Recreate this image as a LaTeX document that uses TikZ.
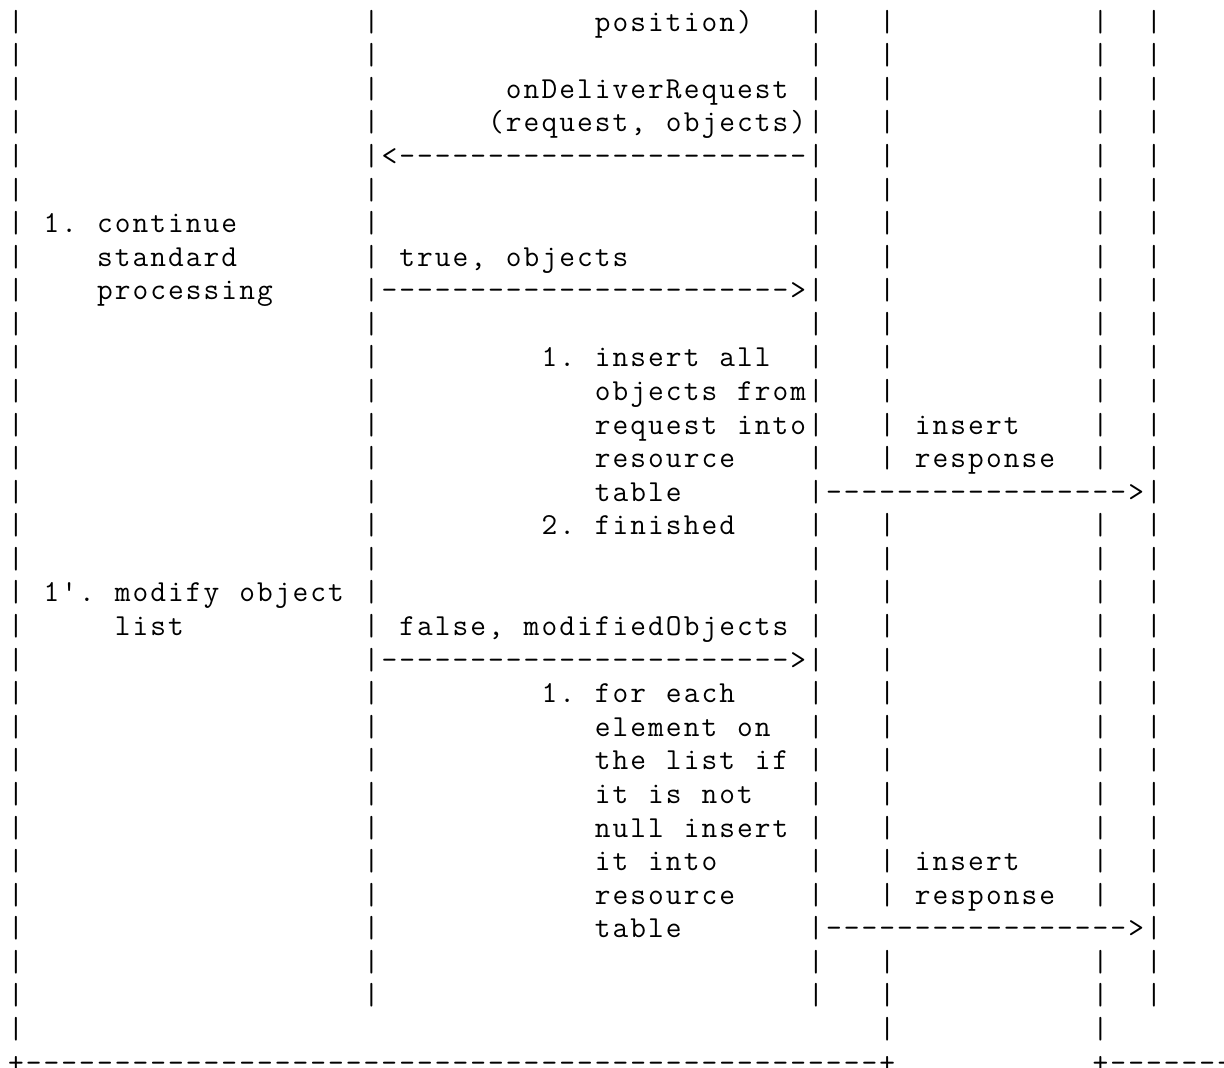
\documentclass[tikz,border=0pt]{standalone}
\usepackage{fontspec}
\ExplSyntaxOn
\cs_new:Npn \repchar #1#2 { \prg_replicate:nn {#1} {#2} }
\cs_new_protected:Npn \gridtext #1
  { \exp_args:Ne \str_map_inline:nn {#1} { \hbox_to_wd:nn {17.78pt} { \hss ##1 \hss } } }
\ExplSyntaxOff
\tikzset{
  asc/.style={anchor=base west, inner sep=0pt, outer sep=0pt,
    font=\ttfamily\fontsize{30.5}{33.58}\selectfont, text=black}
}
\newcommand\cwid{17.78}
\newcommand\rhgt{33.58}
\newcommand\xo{7.1}
\newcommand\asc[4]{\node[asc] (#1) at ({\xo+\cwid*#2},{31.1+\rhgt*#3}) {\gridtext{#4}};}
\begin{document}
\begin{tikzpicture}[x=1pt,y=-1pt]
\useasboundingbox[fill=white] (0,0) rectangle (1224,1068);
% lifelines drawn as columns of bars
\foreach \c/\a/\b in {0/0/30, 20/0/29, 45/0/29, 64/0/29}{
  \foreach \r in {\a,...,\b}{
    \node[asc] (p-\c-\r) at ({\xo+\cwid*\c},{31.1+\rhgt*\r}) {\gridtext{|}};
  }
}
\foreach \c in {49,61}{
  \foreach \r in {0,...,13,15,16,...,26,28,29,30}{
    \node[asc] (p-\c-\r) at ({\xo+\cwid*\c},{31.1+\rhgt*\r}) {\gridtext{|}};
  }
}
% message arrows (as printed)
\asc{m1}{21}{4}{<\repchar{23}{-}}
\asc{m2}{21}{8}{\repchar{23}{-}>}
\asc{m3}{21}{19}{\repchar{23}{-}>}
\asc{m4}{46}{14}{\repchar{17}{-}>}
\asc{m5}{46}{27}{\repchar{17}{-}>}
% bottom borders
\asc{b1}{0}{31}{+\repchar{48}{-}+}
\asc{b2}{61}{31}{+\repchar{7}{-}}
% labels
\asc{t0}{33}{0}{position)}
\asc{t1}{28}{2}{onDeliverRequest}
\asc{t2}{27}{3}{(request, objects)}
\asc{t3}{2}{6}{1. continue}
\asc{t4}{5}{7}{standard}
\asc{t5}{22}{7}{true, objects}
\asc{t6}{5}{8}{processing}
\asc{t7}{30}{10}{1. insert all}
\asc{t8}{33}{11}{objects from}
\asc{t9}{33}{12}{request into}
\asc{t10}{51}{12}{insert}
\asc{t11}{33}{13}{resource}
\asc{t12}{51}{13}{response}
\asc{t13}{33}{14}{table}
\asc{t14}{30}{15}{2. finished}
\asc{t15}{2}{17}{1'. modify object}
\asc{t16}{6}{18}{list}
\asc{t17}{22}{18}{false, modifiedObjects}
\asc{t18}{30}{20}{1. for each}
\asc{t19}{33}{21}{element on}
\asc{t20}{33}{22}{the list if}
\asc{t21}{33}{23}{it is not}
\asc{t22}{33}{24}{null insert}
\asc{t23}{33}{25}{it into}
\asc{t24}{51}{25}{insert}
\asc{t25}{33}{26}{resource}
\asc{t26}{51}{26}{response}
\asc{t27}{33}{27}{table}
\end{tikzpicture}
\end{document}
